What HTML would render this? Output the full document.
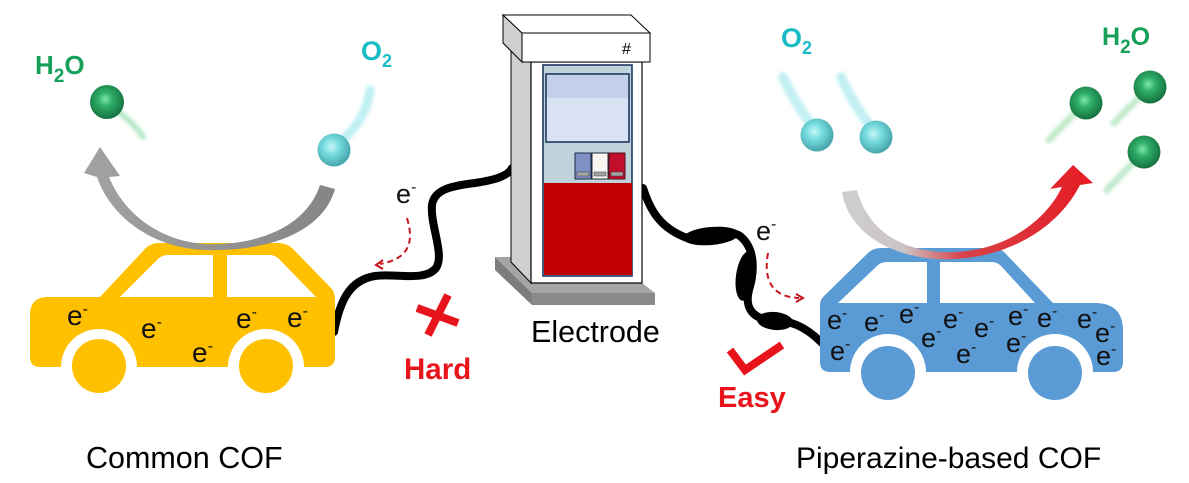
<!DOCTYPE html>
<html><head><meta charset="utf-8"><style>
html,body{margin:0;padding:0;background:#fff;}
svg{display:block;font-family:"Liberation Sans",Arial,sans-serif;}
.e{font-size:28px;fill:#111;}
.e2{font-size:27px;fill:#111;}
.m{font-size:16px;}
</style></head><body>
<svg width="1189" height="483" viewBox="0 0 1189 483" xmlns="http://www.w3.org/2000/svg">
<defs>
<radialGradient id="gg" cx="0.45" cy="0.42" r="0.62">
<stop offset="0" stop-color="#7be8a8"/><stop offset="0.35" stop-color="#2fae68"/><stop offset="1" stop-color="#136b3b"/>
</radialGradient>
<radialGradient id="cg" cx="0.42" cy="0.4" r="0.65">
<stop offset="0" stop-color="#c4f6f6"/><stop offset="0.4" stop-color="#74dadd"/><stop offset="1" stop-color="#3f9ea4"/>
</radialGradient>
<linearGradient id="lg" gradientUnits="userSpaceOnUse" x1="84" y1="0" x2="335" y2="0">
<stop offset="0" stop-color="#a2a2a2"/><stop offset="1" stop-color="#858585"/>
</linearGradient>
<linearGradient id="rg" gradientUnits="userSpaceOnUse" x1="842" y1="0" x2="1093" y2="0">
<stop offset="0" stop-color="#cfcfcf"/><stop offset="0.25" stop-color="#cbc3c3"/><stop offset="0.48" stop-color="#d8424a"/><stop offset="1" stop-color="#e61b22"/>
</linearGradient>
<filter id="bl" x="-50%" y="-50%" width="200%" height="200%"><feGaussianBlur stdDeviation="1.6"/></filter>
</defs>

<!-- tails -->
<g filter="url(#bl)" fill="none" stroke-linecap="round">
<path d="M112,108 Q132,120 143,137" stroke="#b9e8c8" stroke-width="6"/>
<path d="M342,140 Q366,120 370,90" stroke="#bff0f3" stroke-width="9"/>
<path d="M811,124 Q793,100 783,77" stroke="#c3f0f3" stroke-width="10"/>
<path d="M870,126 Q851,100 841,77" stroke="#c3f0f3" stroke-width="10"/>
<path d="M1076,112 Q1060,128 1049,140" stroke="#c3ebcf" stroke-width="7"/>
<path d="M1141,96 Q1126,110 1114,123" stroke="#c3ebcf" stroke-width="7"/>
<path d="M1134,162 Q1118,178 1107,190" stroke="#c3ebcf" stroke-width="7"/>
</g>

<!-- balls -->
<circle cx="107" cy="102" r="17" fill="url(#gg)"/>
<circle cx="334" cy="150" r="16.5" fill="url(#cg)"/>
<circle cx="817" cy="135" r="16.5" fill="url(#cg)"/>
<circle cx="876" cy="137" r="16.5" fill="url(#cg)"/>
<circle cx="1086" cy="103" r="16.5" fill="url(#gg)"/>
<circle cx="1150" cy="87" r="16.5" fill="url(#gg)"/>
<circle cx="1144" cy="152" r="16.5" fill="url(#gg)"/>

<!-- formula labels -->
<g font-weight="bold">
<text x="35" y="74" font-size="26" fill="#17a05a">H<tspan font-size="19" dy="8">2</tspan><tspan font-size="26" dy="-8">O</tspan></text>
<text x="361" y="60" font-size="27" fill="#19bcc4">O<tspan font-size="18" dy="7">2</tspan></text>
<text x="781" y="47" font-size="27" fill="#19bcc4">O<tspan font-size="18" dy="7">2</tspan></text>
<text x="1102" y="45" font-size="25" fill="#17a05a">H<tspan font-size="19" dy="8">2</tspan><tspan font-size="25" dy="-8">O</tspan></text>
</g>

<!-- cables -->
<g fill="none" stroke="#000" stroke-width="8" stroke-linecap="round">
<path d="M334,332 C340,300 350,280 375,276 C395,273 425,282 436,268 C445,255 430,225 432,205 C434,190 450,186 475,183 C495,180 508,176 512,168"/>
<path d="M643,188 C650,210 660,228 687,238 C705,240 725,226 740,236 C755,248 755,270 749,290 C745,305 750,318 770,320 C790,320 805,326 822,343"/>
</g>
<ellipse cx="711" cy="236" rx="28" ry="9" transform="rotate(-5 711 236)" fill="#000"/>
<ellipse cx="746" cy="276" rx="10" ry="25" transform="rotate(8 746 276)" fill="#000"/>
<ellipse cx="775" cy="321" rx="18" ry="9" transform="rotate(5 775 321)" fill="#000"/>

<!-- pump -->
<polygon points="495,257 532,293 532,305 495,270" fill="#7d7d7d"/>
<polygon points="495,257 511,257 531,283 642,283 655,293 532,293" fill="#a5a5a5"/>
<rect x="532" y="293" width="123" height="12" fill="#8a8a8a"/>
<polygon points="511,50 531,62 531,283 511,262" fill="#cfcfcf" stroke="#000" stroke-width="1"/>
<rect x="531" y="62" width="111" height="221" fill="#fff" stroke="#000" stroke-width="1.2"/>
<polygon points="503,15 522,33 522,62 503,43" fill="#cfcfcf" stroke="#000" stroke-width="1"/>
<polygon points="503,15 631,15 650,33 522,33" fill="#fff" stroke="#000" stroke-width="1"/>
<rect x="522" y="33" width="128" height="29" fill="#fff" stroke="#000" stroke-width="1"/>
<text x="622" y="54" font-size="16" fill="#000">#</text>
<rect x="543" y="65" width="89" height="211" fill="#bfd3db" stroke="#1f3864" stroke-width="1.6"/>
<rect x="546" y="74" width="83" height="68" fill="#d9e2f3" stroke="#1f3864" stroke-width="1.6"/>
<rect x="547" y="75" width="81" height="23" fill="#c3d0ea"/>
<rect x="575" y="153" width="16" height="26" fill="#7f90c4" stroke="#1f2a44" stroke-width="1"/>
<rect x="592" y="153" width="16" height="26" fill="#faf7f0" stroke="#1f2a44" stroke-width="1"/>
<rect x="609" y="153" width="16" height="26" fill="#c0102a" stroke="#5a1020" stroke-width="1"/>
<rect x="577" y="172" width="12" height="4" fill="#a6a6a6" stroke="#333" stroke-width="0.5"/>
<rect x="594" y="172" width="12" height="4" fill="#a6a6a6" stroke="#333" stroke-width="0.5"/>
<rect x="611" y="172" width="12" height="4" fill="#a6a6a6" stroke="#333" stroke-width="0.5"/>
<rect x="544" y="183" width="88" height="92" fill="#c00000"/>

<!-- left car -->
<path d="M30,315 Q30,297 48,297 L100,297 L144,250 Q150,243 159,243 L278,243 Q287,243 293,249 L331,288 Q335,292 335,300 L335,357 Q335,367 325,367 L40,367 Q30,367 30,357 Z" fill="#ffc000"/>
<path d="M120,297 L158,259 Q162,255 168,255 L213,255 L213,297 Z" fill="#fff"/>
<path d="M227,255 L270,255 Q275,255 279,259 L316,297 L227,297 Z" fill="#fff"/>
<circle cx="99" cy="367" r="38" fill="#fff"/>
<circle cx="266" cy="367" r="38" fill="#fff"/>
<circle cx="99" cy="366" r="27" fill="#ffc000"/>
<circle cx="266" cy="366" r="27" fill="#ffc000"/>

<!-- right car -->
<path d="M820,362 L820,305 Q820,300 824,296 L868,253 Q873,248 881,248 L993,248 Q1000,248 1005,253 L1053,303 L1095,303 Q1123,303 1123,331 L1123,362 Q1123,372 1113,372 L830,372 Q820,372 820,362 Z" fill="#5b9bd5"/>
<path d="M838,303 L877,266 Q881,262 887,262 L927,262 L927,303 Z" fill="#fff"/>
<path d="M940,262 L992,262 Q997,262 1001,266 L1035,303 L940,303 Z" fill="#fff"/>
<circle cx="888" cy="372" r="38" fill="#fff"/>
<circle cx="1055" cy="372" r="38" fill="#fff"/>
<circle cx="888" cy="373" r="27" fill="#5b9bd5"/>
<circle cx="1055" cy="373" r="27" fill="#5b9bd5"/>

<!-- curved arrows -->
<path d="M335,189 C322,235 262,252 205,250 C150,248 110,215 97,177 L84,173 L100,147 L120,176 L109,177 C124,214 160,241 205,244 C255,246 306,228 320,185 Z" fill="url(#lg)"/>
<path d="M842,192 C850,240 905,262 955,259 C1010,256 1058,228 1080,185 L1093,183 L1073,165 L1050,189 L1062,187 C1045,222 1005,250 955,252 C905,254 868,232 857,190 Z" fill="url(#rg)"/>

<!-- e- labels on cars -->
<g>
<text class="e" x="67" y="325">e<tspan class="m" dy="-11">-</tspan></text>
<text class="e" x="141" y="338">e<tspan class="m" dy="-11">-</tspan></text>
<text class="e" x="192" y="362">e<tspan class="m" dy="-11">-</tspan></text>
<text class="e" x="236" y="328">e<tspan class="m" dy="-11">-</tspan></text>
<text class="e" x="287" y="327">e<tspan class="m" dy="-11">-</tspan></text>
</g>
<g>
<text class="e2" x="827" y="329">e<tspan class="m" dy="-11">-</tspan></text>
<text class="e2" x="864" y="331">e<tspan class="m" dy="-11">-</tspan></text>
<text class="e2" x="899" y="323">e<tspan class="m" dy="-11">-</tspan></text>
<text class="e2" x="830" y="360">e<tspan class="m" dy="-11">-</tspan></text>
<text class="e2" x="921" y="347">e<tspan class="m" dy="-11">-</tspan></text>
<text class="e2" x="943" y="328">e<tspan class="m" dy="-11">-</tspan></text>
<text class="e2" x="974" y="337">e<tspan class="m" dy="-11">-</tspan></text>
<text class="e2" x="956" y="363">e<tspan class="m" dy="-11">-</tspan></text>
<text class="e2" x="1008" y="325">e<tspan class="m" dy="-11">-</tspan></text>
<text class="e2" x="1037" y="327">e<tspan class="m" dy="-11">-</tspan></text>
<text class="e2" x="1006" y="352">e<tspan class="m" dy="-11">-</tspan></text>
<text class="e2" x="1077" y="328">e<tspan class="m" dy="-11">-</tspan></text>
<text class="e2" x="1095" y="342">e<tspan class="m" dy="-11">-</tspan></text>
<text class="e2" x="1096" y="365">e<tspan class="m" dy="-11">-</tspan></text>
</g>

<!-- cable e- and dashed arrows -->
<text class="e2" x="396" y="203">e<tspan class="m" dy="-11">-</tspan></text>
<text class="e2" x="756" y="240">e<tspan class="m" dy="-11">-</tspan></text>
<g fill="none" stroke="#c8141c" stroke-width="2">
<path d="M407,218 C412,235 415,258 380,264" stroke-dasharray="6 4"/>
<polyline points="383,260 376,265 383,269"/>
<path d="M768,253 C764,275 768,297 799,298" stroke-dasharray="6 4"/>
<polyline points="796,294 803,298 796,302"/>
</g>

<!-- X and check -->
<g stroke="#e8141b" stroke-width="8" fill="none">
<line x1="417" y1="308" x2="458" y2="323"/>
<line x1="448" y1="295" x2="428" y2="335"/>
<polyline points="730,350 745,370 782,345" stroke-linejoin="miter"/>
</g>

<!-- labels -->
<text x="404" y="379" font-size="29.5" font-weight="bold" fill="#e8141b">Hard</text>
<text x="718" y="407" font-size="29" font-weight="bold" fill="#e8141b">Easy</text>
<text x="531" y="342" font-size="30.5" fill="#000">Electrode</text>
<text x="86" y="468" font-size="30.5" fill="#000">Common COF</text>
<text x="796" y="468" font-size="30" fill="#000">Piperazine-based COF</text>
</svg>
</body></html>
